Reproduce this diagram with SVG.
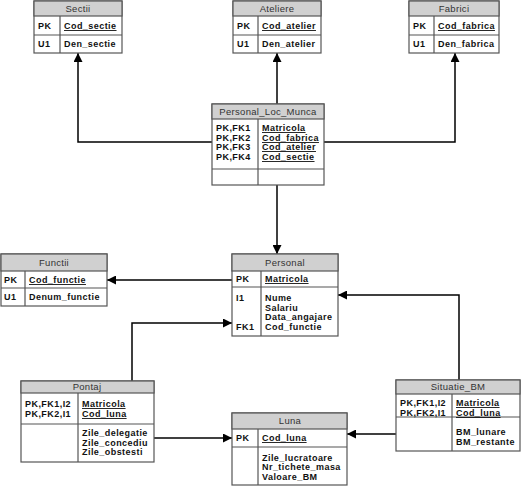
<svg xmlns="http://www.w3.org/2000/svg" width="522" height="486" viewBox="0 0 522 486">
<style>
.box{fill:#fff;stroke:#555;stroke-width:1.2}
.hdr{fill:#d0d0d0;stroke:#555;stroke-width:1.2}
.ln{stroke:#555;stroke-width:1.2;fill:none}
.t{font-family:"Liberation Sans",Arial,sans-serif;font-size:9px;font-weight:bold;fill:#111;letter-spacing:0.45px}
.u{text-decoration:underline}
.h{font-family:"Liberation Sans",Arial,sans-serif;font-size:9.5px;fill:#333;text-anchor:middle;letter-spacing:0.3px}
.c{stroke:#000;stroke-width:1.5;fill:none;marker-end:url(#ah)}
</style>
<defs>
<marker id="ah" viewBox="0 0 10 10" refX="10" refY="5" markerWidth="9" markerHeight="9" orient="auto" markerUnits="userSpaceOnUse">
<path d="M0,0 L10,5 L0,10 z" fill="#000"/>
</marker>
</defs>
<rect width="522" height="486" fill="#fff"/>
<g id="connectors">
<path class="c" d="M277,104 V53"/>
<path class="c" d="M212,142 H78 V53"/>
<path class="c" d="M324,142 H455 V53"/>
<path class="c" d="M277,185 V254"/>
<path class="c" d="M232,280 H107"/>
<path class="c" d="M459,380 V295 H338"/>
<path class="c" d="M132,381 V323 H232"/>
<path class="c" d="M154,438 H232"/>
<path class="c" d="M396,434 H347"/>
</g>
<g id="Sectii">
<rect class="box" x="34" y="1" width="88" height="52"/>
<rect class="hdr" x="34" y="1" width="88" height="15"/>
<line class="ln" x1="34" y1="35" x2="122" y2="35"/>
<line class="ln" x1="60" y1="16" x2="60" y2="53"/>
<text class="h" x="78" y="12">Sectii</text>
<text class="t" x="38" y="29">PK</text><text class="t u" x="64" y="29">Cod_sectie</text>
<text class="t" x="38" y="47">U1</text><text class="t" x="64" y="47">Den_sectie</text>
</g>
<g id="Ateliere">
<rect class="box" x="233" y="1" width="88" height="52"/>
<rect class="hdr" x="233" y="1" width="88" height="15"/>
<line class="ln" x1="233" y1="35" x2="321" y2="35"/>
<line class="ln" x1="258" y1="16" x2="258" y2="53"/>
<text class="h" x="277" y="12">Ateliere</text>
<text class="t" x="237" y="29">PK</text><text class="t u" x="262" y="29">Cod_atelier</text>
<text class="t" x="237" y="47">U1</text><text class="t" x="262" y="47">Den_atelier</text>
</g>
<g id="Fabrici">
<rect class="box" x="409" y="1" width="90" height="52"/>
<rect class="hdr" x="409" y="1" width="90" height="15"/>
<line class="ln" x1="409" y1="35" x2="499" y2="35"/>
<line class="ln" x1="434" y1="16" x2="434" y2="53"/>
<text class="h" x="454" y="12">Fabrici</text>
<text class="t" x="413" y="29">PK</text><text class="t u" x="438" y="29">Cod_fabrica</text>
<text class="t" x="413" y="47">U1</text><text class="t" x="438" y="47">Den_fabrica</text>
</g>
<g id="Personal_Loc_Munca">
<rect class="box" x="212" y="104" width="112" height="81"/>
<rect class="hdr" x="212" y="104" width="112" height="15"/>
<line class="ln" x1="212" y1="169" x2="324" y2="169"/>
<line class="ln" x1="258" y1="119" x2="258" y2="185"/>
<text class="h" x="268" y="115">Personal_Loc_Munca</text>
<text class="t" x="216" y="131">PK,FK1</text><text class="t u" x="262" y="131">Matricola</text>
<text class="t" x="216" y="141">PK,FK2</text><text class="t u" x="262" y="141">Cod_fabrica</text>
<text class="t" x="216" y="150">PK,FK3</text><text class="t u" x="262" y="150">Cod_atelier</text>
<text class="t" x="216" y="160">PK,FK4</text><text class="t u" x="262" y="160">Cod_sectie</text>
</g>
<g id="Functii">
<rect class="box" x="1" y="254" width="106" height="52"/>
<rect class="hdr" x="1" y="254" width="106" height="17"/>
<line class="ln" x1="1" y1="288" x2="107" y2="288"/>
<line class="ln" x1="25" y1="271" x2="25" y2="306"/>
<text class="h" x="54" y="266">Functii</text>
<text class="t" x="4" y="283">PK</text><text class="t u" x="29" y="283">Cod_functie</text>
<text class="t" x="4" y="300">U1</text><text class="t" x="29" y="300">Denum_functie</text>
</g>
<g id="Personal">
<rect class="box" x="232" y="254" width="106" height="82"/>
<rect class="hdr" x="232" y="254" width="106" height="17"/>
<line class="ln" x1="232" y1="287" x2="338" y2="287"/>
<line class="ln" x1="261" y1="271" x2="261" y2="336"/>
<text class="h" x="285" y="266">Personal</text>
<text class="t" x="236" y="282">PK</text><text class="t u" x="265" y="282">Matricola</text>
<text class="t" x="236" y="301">I1</text><text class="t" x="265" y="301">Nume</text>
<text class="t" x="265" y="311">Salariu</text>
<text class="t" x="265" y="320">Data_angajare</text>
<text class="t" x="236" y="330">FK1</text><text class="t" x="265" y="330">Cod_functie</text>
</g>
<g id="Pontaj">
<rect class="box" x="21" y="381" width="133" height="81"/>
<rect class="hdr" x="21" y="381" width="133" height="12"/>
<line class="ln" x1="21" y1="424" x2="154" y2="424"/>
<line class="ln" x1="78" y1="393" x2="78" y2="462"/>
<text class="h" x="87" y="390">Pontaj</text>
<text class="t" x="25" y="407">PK,FK1,I2</text><text class="t u" x="82" y="407">Matricola</text>
<text class="t" x="25" y="417">PK,FK2,I1</text><text class="t u" x="82" y="417">Cod_luna</text>
<text class="t" x="82" y="436">Zile_delegatie</text>
<text class="t" x="82" y="446">Zile_concediu</text>
<text class="t" x="82" y="455">Zile_obstesti</text>
</g>
<g id="Luna">
<rect class="box" x="232" y="413" width="115" height="72"/>
<rect class="hdr" x="232" y="413" width="115" height="16"/>
<line class="ln" x1="232" y1="447" x2="347" y2="447"/>
<line class="ln" x1="258" y1="429" x2="258" y2="485"/>
<text class="h" x="290" y="424">Luna</text>
<text class="t" x="236" y="441">PK</text><text class="t u" x="262" y="441">Cod_luna</text>
<text class="t" x="262" y="461">Zile_lucratoare</text>
<text class="t" x="262" y="470">Nr_tichete_masa</text>
<text class="t" x="262" y="480">Valoare_BM</text>
</g>
<g id="Situatie_BM">
<rect class="box" x="396" y="380" width="124" height="71"/>
<rect class="hdr" x="396" y="380" width="124" height="14"/>
<line class="ln" x1="396" y1="417" x2="520" y2="417"/>
<line class="ln" x1="452" y1="394" x2="452" y2="451"/>
<text class="h" x="458" y="390">Situatie_BM</text>
<text class="t" x="400" y="406">PK,FK1,I2</text><text class="t u" x="456" y="406">Matricola</text>
<text class="t" x="400" y="416">PK,FK2,I1</text><text class="t u" x="456" y="416">Cod_luna</text>
<text class="t" x="456" y="435">BM_lunare</text>
<text class="t" x="456" y="445">BM_restante</text>
</g>
</svg>
